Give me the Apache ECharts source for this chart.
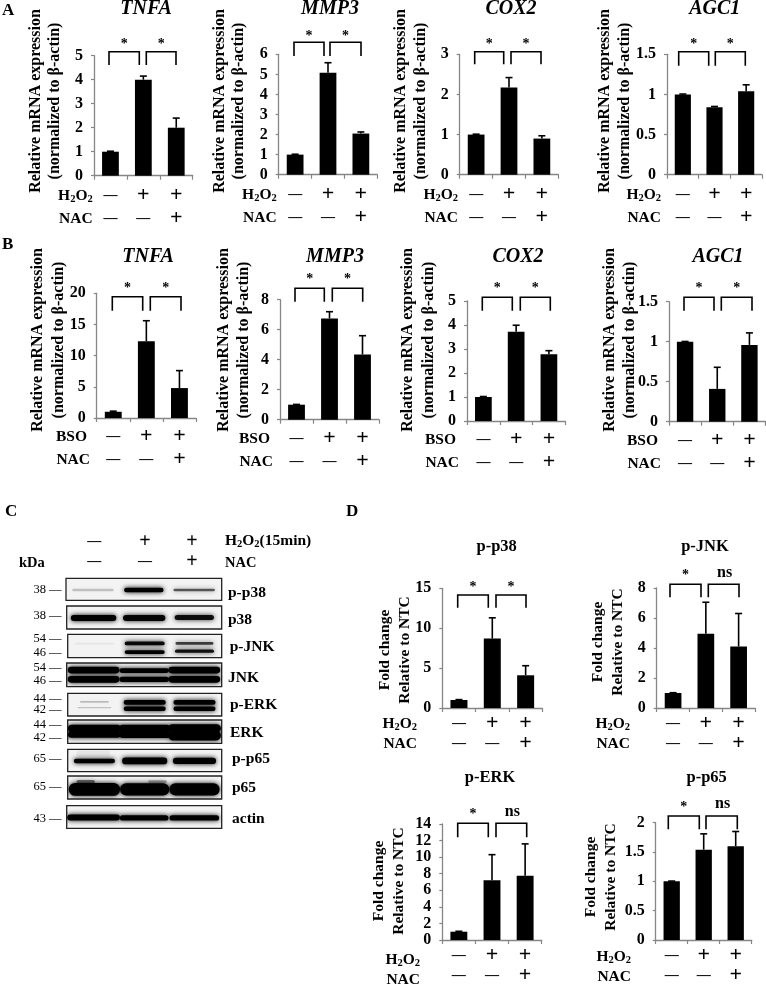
<!DOCTYPE html>
<html><head><meta charset="utf-8">
<style>html,body{margin:0;padding:0;background:#fff}#c{width:766px;height:986px}</style>
<script src="https://cdn.jsdelivr.net/npm/echarts@6/dist/echarts.min.js"></script>
</head><body><div id="c"></div>
<script>
// ---------- data ----------
const h2o2Row = ['—','+','+'];
const bsoRow  = ['—','+','+'];
const nacRow  = ['—','—','+'];

const aTitles = ['TNFA','MMP3','COX2','AGC1'];
const aValues = [[1,4,2],[1,5.08,2.05],[1,2.17,0.9],[1,0.84,1.04]];
const aErrors = [[0.02,0.15,0.4],[0.02,0.5,0.08],[0.01,0.25,0.07],[0.005,0.01,0.08]];
const aMax = [5,6,3,1.5];
const aStep = [1,1,1,0.5];

const bTitles = ['TNFA','MMP3','COX2','AGC1'];
const bValues = [[1,12.3,4.8],[1,6.75,4.35],[1,3.72,2.78],[1,0.41,0.96]];
const bErrors = [[0.1,3.3,2.8],[0.02,0.45,1.25],[0.02,0.27,0.15],[0.003,0.27,0.15]];
const bMax = [20,8,5,1.5];
const bStep = [5,2,1,0.5];

const dTitles = ['p-p38','p-JNK','p-ERK','p-p65'];
const dValues = [[1,8.7,4.1],[1,4.95,4.1],[1,7.2,7.75],[1,1.54,1.6]];
const dErrors = [[0.05,2.6,1.2],[0.02,2.1,2.2],[0.05,3.1,3.85],[0.005,0.27,0.25]];
const dMax = [15,8,14,2];
const dStep = [5,2,2,0.5];
const dMarks = [['*','*'],['*','ns'],['*','ns'],['*','ns']];

const blotNames = ['p-p38','p38','p-JNK','JNK','p-ERK','ERK','p-p65','p65','actin'];
const kdaLabels = ['38','38','54','46','54','46','44','42','44','42','65','65','43'];
// band: blot, lane centre, vertical fraction, lane width, thickness fraction, darkness
const bands = [
 [0,.52,.53,.8,.12,.2],[0,1.5,.53,.76,.2,1],[0,2.47,.53,.8,.12,.6],
 [1,.52,.52,.88,.26,1],[1,1.5,.52,.82,.26,.95],[1,2.47,.5,.76,.22,.9],
 [2,.52,.4,.76,.1,.05],[2,1.5,.39,.78,.16,.95],[2,1.5,.76,.78,.16,1],[2,2.47,.39,.74,.12,.7],[2,2.47,.72,.76,.14,.9],
 [3,.52,.3,1.0,.28,1],[3,.52,.69,1.0,.28,1],[3,1.5,.32,.96,.2,1],[3,1.5,.69,.96,.22,1],[3,2.47,.3,1.0,.28,1],[3,2.47,.69,1.0,.28,1],
 [4,.52,.38,.56,.06,.3],[4,.52,.63,.66,.06,.2],[4,1.5,.4,.82,.2,1],[4,1.5,.68,.82,.2,1],[4,2.47,.4,.82,.2,1],[4,2.47,.68,.82,.2,1],
 [5,.52,.36,1.03,.32,1],[5,.52,.62,1.03,.28,1],[5,1.5,.36,1.0,.32,1],[5,1.5,.62,1.0,.3,1],[5,2.47,.36,1.03,.36,1],[5,2.47,.66,1.03,.44,1],
 [6,.5,.18,.66,.26,.05],[6,.52,.52,.8,.2,1],[6,1.5,.52,.88,.3,1],[6,2.47,.52,.84,.28,1],
 [7,.52,.58,1.0,.56,1],[7,.35,.25,.36,.16,.5],[7,1.5,.58,.96,.54,1],[7,1.75,.25,.36,.12,.3],[7,2.47,.58,.98,.54,1],
 [8,.52,.52,1.02,.26,1],[8,1.5,.54,.94,.24,1],[8,2.47,.54,.96,.24,1]
];

// ---------- layout (pixels) ----------
const serif = '"Liberation Serif","Times New Roman",serif';
const axisGray = '#868686';
const layoutA = [
 {x:[94,192.7],y:[55.7,175.7],tx:146,ty:9,yt:[45.5,101],rx:92.7,br:[109,139.3,146.3,176,51.7,65,41.7]},
 {x:[278.7,377.3],y:[54.3,174.7],tx:330,ty:9,yt:[229.5,101],rx:276.7,br:[294,324,330,361,42.3,56,33]},
 {x:[459.7,558.3],y:[54.3,174.7],tx:511,ty:9,yt:[411,101],rx:458,br:[474.7,503.7,511,541,51.7,64.3,41.7]},
 {x:[667,762],y:[54.3,174.7],tx:714.7,ty:9,yt:[615,101],rx:661,br:[678.7,708.7,715.3,745.3,51.7,65.7,41.7]}
];
const layoutB = [
 {x:[96.7,196],y:[293.3,418],tx:148,ty:256.7,yt:[48.5,340],rx:87,br:[112.3,142.7,150.3,181,296.7,310.7,285]},
 {x:[280,379],y:[299.7,419.7],tx:335,ty:256.7,yt:[234,340],rx:270,br:[295,324.3,332.3,362.7,288.3,301.7,276.7]},
 {x:[467,565.3],y:[301,421],tx:518,ty:256.7,yt:[418.5,340],rx:456,br:[482.3,512.3,520.3,550.3,297.3,310.7,285]},
 {x:[669,765.5],y:[301.7,421.7],tx:718,ty:256.7,yt:[620,340],rx:658,br:[684,714,721.3,752,297.3,310.7,285]}
];
const layoutD = [
 {x:[442.3,542.3],y:[588.3,708],tx:496.7,ty:546.7,yt:[395,650],rx:417,br:[457.7,488.3,496,526,595,607.7,584.3]},
 {x:[656.7,755],y:[588,708],tx:705,ty:546.7,yt:[608,642],rx:630,br:[670,701,708.3,739,584.3,597.3,572.7]},
 {x:[442.3,541.7],y:[824,944],tx:490,ty:778,yt:[389,881],rx:420,br:[457.7,488.3,496,526.7,823.3,837.3,811.7]},
 {x:[655.7,751.7],y:[822.7,941],tx:706.7,ty:778,yt:[600.7,877],rx:631,br:[668.3,699.3,706,737.3,816,829.3,804]}
];
const blotBoxes = [[66,221.7,578.3,600.3],[66.7,221.7,606,629],[67.7,221.7,634.3,657.7],[66.7,221.7,663,686.7],[67.7,221.7,693.3,716],[67.7,221.7,720,743.3],[67.7,221.7,749.3,771.7],[67.7,221.7,776,799],[66.7,221.7,805.7,828.3]];
const blotLabelPos = [[228,592.7],[228,620],[229.7,646.7],[228,677.7],[230,705],[230,733.3],[232,759.3],[232,788.3],[232,819.3]];
const kdaPos = [590,616,638.3,652.3,667.7,680.7,698.3,710,725,737.3,758.3,786.7,818.3];

// ---------- option assembly ----------
const grid=[],xAxis=[],yAxis=[],series=[],title=[],graphic=[];
function txt(text,x,y,o){
  graphic.push({type:'text',x:x,y:y,rotation:(o&&o.rot)||0,silent:true,z:20,style:Object.assign({
    text:text,fill:'#000',font:'bold 15px '+serif,align:'left',verticalAlign:'middle'},(o&&o.style)||{})});
}
const h2o2Rich={b:{fontFamily:serif,fontWeight:'bold',fontSize:15.5,fill:'#000',color:'#000'},
  s:{fontFamily:serif,fontWeight:'bold',fontSize:10.5,color:'#000',padding:[7,0,0,0]}};
const H2O2='{b|H}{s|2}{b|O}{s|2}';

function addBarPanel(p,L,o){
  const idx=grid.length;
  grid.push({left:L.x[0],width:L.x[1]-L.x[0],top:L.y[0],height:L.y[1]-L.y[0],containLabel:false});
  xAxis.push({type:'category',gridIndex:idx,data:p.rowA.map((a,i)=>a+'|'+p.rowB[i]),
    axisLine:{lineStyle:{color:axisGray,width:1.3}},
    axisTick:{show:true,length:4,lineStyle:{color:axisGray,width:1.2}},
    axisLabel:{interval:0,margin:o.margin,
      formatter:v=>v.split('|').map(s=>'{'+(s==='+'?'p':'m')+'|'+s+'}').join('\n'),
      rich:{p:{fontFamily:serif,fontWeight:'bold',fontSize:22,lineHeight:o.gap,color:'#000'},
            m:{fontFamily:serif,fontWeight:'bold',fontSize:14,lineHeight:o.gap,color:'#000'}}}});
  yAxis.push({type:'value',gridIndex:idx,min:0,max:p.max,interval:p.step,splitLine:{show:false},
    axisLine:{show:true,lineStyle:{color:axisGray,width:1.3}},
    axisTick:{show:true,length:3,lineStyle:{color:axisGray,width:1.2}},
    axisLabel:{margin:11,fontFamily:serif,fontWeight:'bold',fontSize:16,color:'#000'}});
  series.push({type:'bar',xAxisIndex:idx,yAxisIndex:idx,data:p.values,barWidth:'51%',itemStyle:{color:'#000'},silent:true,z:2});
  const errs=p.errors, vals=p.values;
  series.push({type:'custom',xAxisIndex:idx,yAxisIndex:idx,silent:true,z:3,
    data:vals.map((v,i)=>[i,v,errs[i]]),
    renderItem:(params,api)=>{
      const i=api.value(0),v=api.value(1),e=api.value(2);
      const a=api.coord([i,v]),b=api.coord([i,v+e]);
      const st={stroke:'#000',lineWidth:1.6,fill:null};
      return {type:'group',children:[
        {type:'line',shape:{x1:a[0],y1:a[1],x2:b[0],y2:b[1]},style:st},
        {type:'line',shape:{x1:b[0]-3.5,y1:b[1],x2:b[0]+3.5,y2:b[1]},style:st}]};
    }});
  // significance brackets
  const br=L.br, marks=p.marks;
  series.push({type:'custom',xAxisIndex:idx,yAxisIndex:idx,silent:true,z:4,data:[[0,0],[1,0]],
    renderItem:(params,api)=>{
      const k=params.dataIndex, x0=br[k*2], x1=br[k*2+1], top=br[4], bot=br[5];
      const m=marks[k], cx=(x0+x1)/2;
      return {type:'group',children:[
        {type:'polyline',shape:{points:[[x0,bot],[x0,top],[x1,top],[x1,bot]]},style:{stroke:'#000',lineWidth:1.6,fill:null}},
        {type:'text',style:{text:m,x:cx+(m==='ns'?1:0),y:br[6]+(m==='*'?3:0),align:'center',verticalAlign:'middle',
          font:(m==='ns'?'bold 16px ':'bold 14px ')+serif,fill:'#000'}}]};
    }});
  // title
  title.push({text:p.title,left:L.tx,top:L.ty,textAlign:'center',textVerticalAlign:'middle',padding:0,
    textStyle:{fontFamily:serif,fontWeight:'bold',fontStyle:o.italic?'italic':'normal',fontSize:o.titleSize,color:'#000'}});
  // y title
  txt(o.yTitle,L.yt[0],L.yt[1],{rot:Math.PI/2,style:{align:'center',font:'bold '+o.ySize+'px '+serif,lineHeight:o.yGap}});
  // row names
  const y0=L.y[1];
  if(p.first==='H'){ txt(H2O2,L.rx,y0+o.row1,{style:{align:'right',rich:h2o2Rich}}); }
  else txt(p.first,L.rx,y0+o.row1,{style:{align:'right',font:'bold 15.5px '+serif}});
  txt('NAC',L.rx+(p.first==='H'?0:3),y0+o.row1+o.gap,{style:{align:'right',font:'bold 15.5px '+serif}});
}

const Atxt='Relative mRNA expression\n(normalized to β-actin)';
const Dtxt='Fold change\nRelative to NTC';
aTitles.forEach((t,i)=>addBarPanel({title:t,values:aValues[i],errors:aErrors[i],max:aMax[i],step:aStep[i],rowA:h2o2Row,rowB:nacRow,marks:['*','*'],first:'H'},layoutA[i],
  {margin:8,gap:23,row1:20,italic:true,titleSize:20,yTitle:Atxt,ySize:16,yGap:19.5}));
bTitles.forEach((t,i)=>addBarPanel({title:t,values:bValues[i],errors:bErrors[i],max:bMax[i],step:bStep[i],rowA:bsoRow,rowB:nacRow,marks:['*','*'],first:'BSO'},layoutB[i],
  {margin:7,gap:23,row1:19,italic:true,titleSize:20,yTitle:Atxt,ySize:16,yGap:20.5}));
dTitles.forEach((t,i)=>addBarPanel({title:t,values:dValues[i],errors:dErrors[i],max:dMax[i],step:dStep[i],rowA:h2o2Row,rowB:nacRow,marks:dMarks[i],first:'H'},layoutD[i],
  {margin:5,gap:20,row1:15.5,italic:false,titleSize:16.5,yTitle:Dtxt,ySize:15.5,yGap:20}));

// western blot panel
blotNames.forEach((name,b)=>{
  const box=blotBoxes[b], idx=grid.length;
  grid.push({left:box[0],width:box[1]-box[0],top:box[2],height:box[3]-box[2],show:true,
    backgroundColor:'#f3f3f3',borderColor:'#222',borderWidth:1.3});
  xAxis.push({type:'value',gridIndex:idx,min:0,max:3,show:false});
  yAxis.push({type:'value',gridIndex:idx,min:0,max:1,inverse:true,show:false});
  series.push({type:'custom',xAxisIndex:idx,yAxisIndex:idx,silent:true,clip:true,
    data:bands.filter(r=>r[0]===b).map(r=>r.slice(1)),
    renderItem:(params,api)=>{
      const cx=api.value(0),cy=api.value(1),w=api.value(2),t=api.value(3),a=api.value(4);
      const p0=api.coord([cx-w/2,cy-t/2]),p1=api.coord([cx+w/2,cy+t/2]);
      const col='rgba(0,0,0,'+a+')';
      return {type:'rect',shape:{x:p0[0],y:p0[1],width:p1[0]-p0[0],height:p1[1]-p0[1],r:(p1[1]-p0[1])/2},
        style:{fill:col,shadowBlur:5,shadowColor:col}};
    }});
  txt(name,blotLabelPos[b][0],blotLabelPos[b][1],{style:{font:'bold 15.5px '+serif}});
});
kdaLabels.forEach((l,i)=>{
  txt(l+' —',61.5,kdaPos[i],{style:{align:'right',font:'12.5px '+serif}});
});
[94.3,145,192].forEach((x,i)=>{
  txt(h2o2Row[i],x,541.5,{style:{align:'center',font:(h2o2Row[i]==='+'?'bold 20px ':'bold 14px ')+serif}});
  txt(nacRow[i],x,561.5,{style:{align:'center',font:(nacRow[i]==='+'?'bold 20px ':'bold 14px ')+serif}});
});
txt('{b|H}{s|2}{b|O}{s|2}{b|(15min)}',225,541,{style:{rich:h2o2Rich}});
txt('NAC',225,563,{style:{font:'bold 14.5px '+serif}});
txt('kDa',19,563,{style:{font:'bold 14.5px '+serif}});
[['A',2,11],['B',2,245],['C',5,512],['D',346,512]].forEach(a=>txt(a[0],a[1],a[2],{style:{font:'bold 17px '+serif}}));

const chart=echarts.init(document.getElementById('c'),null,{renderer:'canvas'});
chart.setOption({animation:false,backgroundColor:'#fff',title,grid,xAxis,yAxis,series,graphic:{elements:graphic},tooltip:{show:false}});
</script></body></html>
